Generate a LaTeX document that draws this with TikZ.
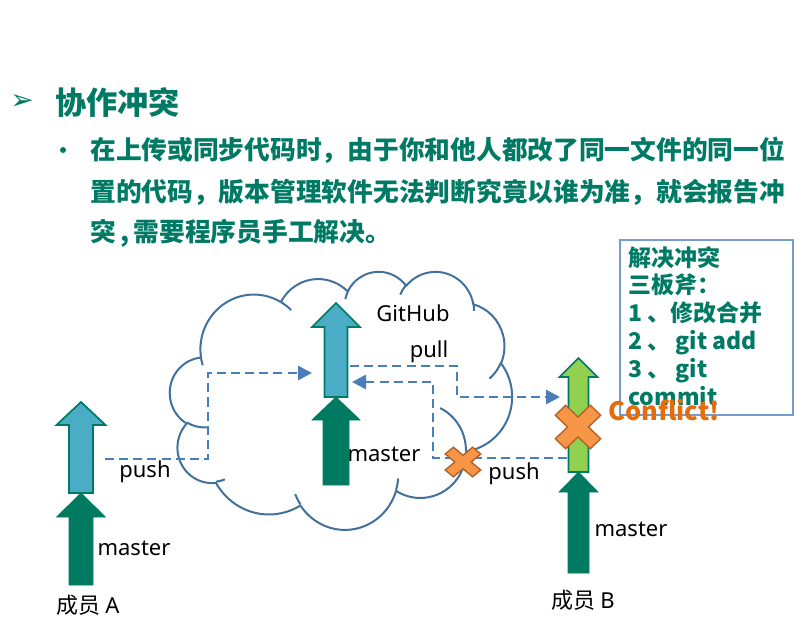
\documentclass[tikz,border=0pt]{standalone}
\usepackage{fontspec}
\setmainfont{Noto Sans}
\newfontfamily\cjk{Noto Sans CJK SC}
\newfontfamily\symf{DejaVu Sans}
\usetikzlibrary{arrows.meta}
\definecolor{teal1}{RGB}{0,122,100}
\definecolor{darkarrow}{RGB}{0,122,96}
\definecolor{lblue}{RGB}{75,172,198}
\definecolor{lgreen}{RGB}{146,208,80}
\definecolor{dashblue}{RGB}{74,126,187}
\definecolor{cloudblue}{RGB}{65,113,156}
\definecolor{boxblue}{RGB}{120,155,205}
\definecolor{xfill}{RGB}{247,150,70}
\definecolor{xline}{RGB}{183,100,40}
\definecolor{conf}{RGB}{228,108,10}
\newcommand\ooarc[4]{\pgfextra{%
 \pgfmathsetmacro\ooa{atan2((#1)*sin(#3),(#2)*cos(#3))}%
 \pgfmathsetmacro\oob{atan2((#1)*sin((#3)+(#4)),(#2)*cos((#3)+(#4)))}%
 \pgfmathsetmacro\ood{\oob-\ooa}%
 \pgfmathsetmacro\ood{(#4>0)?((\ood<0)?(\ood+360):\ood):((\ood>0)?(\ood-360):\ood)}%
 \global\let\ooa\ooa \global\let\ood\ood}%
 arc[start angle=\ooa, delta angle=\ood, x radius=#1, y radius=#2]}
\newcommand\blockarrow[8]{%
 \draw[#1] ({#2-#6},#5) -- ({#2-#6},#4) -- ({#2-#7},#4) -- (#2,#3) -- ({#2+#7},#4) -- ({#2+#6},#4) -- ({#2+#6},#5) -- cycle;
 \coordinate (#8) at (#2,#3);}
\newcommand\xmark[5]{%
 \begin{scope}[shift={(#1,#2)}, x=#3pt, y=#4pt]
 \draw[xst] (0.986,0.534) -- (0.4525,0) -- (0.986,-0.534) -- (0.534,-0.986) -- (0,-0.4525) -- (-0.534,-0.986) -- (-0.986,-0.534) -- (-0.4525,0) -- (-0.986,0.534) -- (-0.534,0.986) -- (0,0.4525) -- (0.534,0.986) -- cycle;
 \coordinate (#5) at (0,0);
 \end{scope}}
\tikzset{
 cloudst/.style={draw=cloudblue, line width=1.5pt, line join=round},
 lightarr/.style={draw=teal1, line width=1.3pt, line join=miter},
 darkarr/.style={fill=darkarrow, draw=darkarrow, line width=0.5pt},
 dashconn/.style={draw=dashblue, line width=2.2pt, dash pattern=on 6.8pt off 3.8pt, -{Triangle[length=10.5pt,width=10.5pt]}},
 xst/.style={fill=xfill, draw=xline, line width=1.1pt, line join=miter},
 lbl/.style={font=\fontsize{16.5}{19}\selectfont, inner sep=0pt, text=black},
 cjklbl/.style={font=\cjk\fontsize{16.5}{19}\selectfont, inner sep=0pt, text=black},
 bodytxt/.style={font=\cjk\bfseries\fontsize{19.3}{23}\selectfont, text=teal1, inner sep=0pt, anchor=west}
}
\begin{document}
\begin{tikzpicture}[x=0.75pt,y=-0.75pt]
\useasboundingbox (0,0) rectangle (803,623);
% title
\node[font=\symf\fontsize{21}{24}\selectfont, text=teal1, inner sep=0pt] (tbul) at (22,102) {➢};
\node[font=\cjk\bfseries\fontsize{23.4}{28}\selectfont, text=teal1, inner sep=0pt, anchor=west] (title) at (55,103) {协作冲突};
\fill[teal1] (63,150) circle (3);
\node[bodytxt] (l1) at (90,150) {在上传或同步代码时，由于你和他人都改了同一文件的同一位};
\node[bodytxt] (l2) at (90,192) {置的代码，版本管理软件无法判断究竟以谁为准，就会报告冲};
\node[bodytxt] (l3) at (90,233) {突\,,\,需要程序员手工解决。};
% cloud
\begin{scope}[shift={(170,271)}, x=0.59375pt, y=-0.4479pt]
\filldraw[cloudst, fill=white] (39.00,143.70)
 \ooarc{67.53}{91.90}{-190.4875}{123.7805}
 \ooarc{53.33}{72.67}{-144.1024}{89.9452}
 \ooarc{43.65}{59.45}{-145.8079}{99.7230}
 \ooarc{48.57}{65.95}{-130.9861}{117.2417}
 \ooarc{53.33}{72.73}{-78.7089}{109.0269}
 \ooarc{67.75}{92.20}{-46.2673}{130.2690}
 \ooarc{57.85}{78.67}{0.6250}{114.0333}
 \ooarc{67.52}{92.15}{22.4516}{115.1726}
 \ooarc{77.20}{105.43}{66.2426}{75.7110}
 \ooarc{43.60}{59.18}{-274.9421}{146.7356}
 \ooarc{43.45}{59.45}{-246.8285}{152.5189}
 -- cycle;
\draw[cloudst]
 (46.93,261.77) \ooarc{43.45}{59.45}{86.7420}{26.4295}
 (69.28,348.99) \ooarc{43.60}{59.18}{73.6105}{11.4475}
 (164.78,390.90) \ooarc{67.52}{92.15}{137.6242}{14.0811}
 (288.27,347.51) \ooarc{67.52}{92.15}{6.4533}{15.9984}
 (341.29,229.54) \ooarc{57.85}{78.67}{-70.2924}{70.9174}
 (417.98,153.54) \ooarc{53.33}{72.73}{30.3180}{27.7515}
 (383.24,54.26) \ooarc{48.57}{65.95}{-13.7443}{14.8589}
 (290.78,39.52) \ooarc{48.57}{65.95}{-149.1815}{18.1954}
 (221.41,47.20) \ooarc{43.65}{59.45}{-163.4943}{17.6864}
 (140.00,51.92) \ooarc{67.53}{91.90}{-66.7070}{12.3194}
 (41.27,157.89) \ooarc{67.53}{91.90}{157.6544}{11.8582};
\end{scope}
% info box
\draw[boxblue, line width=0.8pt] (620,240) rectangle (793,415);
\node[anchor=north west, align=left, inner sep=0pt, text=teal1, font=\cjk\bfseries\fontsize{17.25}{20.85}\selectfont] (box) at (628,246)
 {解决冲突\\三板斧：\\1 、修改合并\\2 、 git add\\3 、 git\\commit};
% arrows
\blockarrow{darkarr}{81}{493}{517}{585}{12}{24.5}{Adark}
\blockarrow{lightarr, fill=lblue}{81}{402}{425}{493}{12}{24.5}{Alight}
\blockarrow{darkarr}{336}{397}{420}{485}{13}{24}{Gdark}
\blockarrow{lightarr, fill=lblue}{336}{303}{327}{397}{11.5}{24}{Glight}
\blockarrow{darkarr}{578.5}{472}{492}{573}{10.5}{19.5}{Bdark}
\blockarrow{lightarr, fill=lgreen}{578.5}{358}{377}{472}{10}{19}{Blight}
% connector ends
\coordinate (pushA) at (105,459);
\coordinate (ghInA) at (312,373);
\coordinate (ghOut) at (350,366);
\coordinate (bIn) at (560,397);
\coordinate (bOut) at (567,458);
\coordinate (ghInB) at (352,382);
\draw[dashconn] (pushA) -- ++(103,0) |- (ghInA);
\draw[dashconn] (ghOut) -- ++(107,0) |- (bIn);
\draw[dashconn] (bOut) -- ++(-134,0) |- (ghInB);
% X marks
\xmark{578}{427}{17.25}{16.5}{xbig}
\xmark{463}{462}{13.5}{11.25}{xsmall}
% labels
\node[lbl] (pushAl) at (145,472) {push};
\node[lbl] (mA) at (134,548) {master};
\node[cjklbl] (memA) at (88,605) {成员 {\rmfamily A}};
\node[lbl] (gh) at (413,313) {GitHub};
\node[lbl] (pulll) at (429,352) {pull};
\node[lbl] (mG) at (384,454) {master};
\node[lbl] (pushBl) at (514,474) {push};
\node[lbl] (mB) at (631,529) {master};
\node[cjklbl] (memB) at (583,600) {成员 {\rmfamily B}};
\node[font=\cjk\bfseries\fontsize{19}{22}\selectfont, text=conf, inner sep=0pt] (conflict) at (664,410) {Conflict!};
\end{tikzpicture}
\end{document}
